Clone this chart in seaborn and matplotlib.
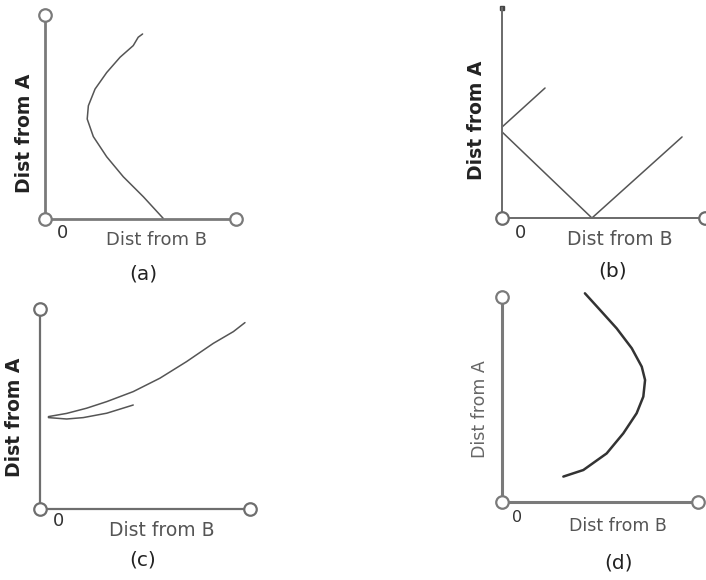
import numpy as np
import pandas as pd
import matplotlib
matplotlib.use("Agg")
import matplotlib.pyplot as plt
import seaborn as sns

sns.set_theme(style="white")
plt.rcParams["font.family"] = ["DejaVu Sans"]

# ---- curve data (distance from B, distance from A), unit scale 0..10 ----
a_dist_b = [6.19, 5.15, 4.10, 3.23, 2.53, 2.21, 2.27, 2.62, 3.23, 3.93, 4.62, 4.88, 5.11]
a_dist_a = [0.03, 1.09, 2.07, 3.05, 4.04, 4.90, 5.55, 6.37, 7.18, 7.93, 8.50, 8.91, 9.07]

b_upper_b = [0.0, 2.12]
b_upper_a = [4.33, 6.19]
b_v_b = [0.0, 4.43, 8.87]
b_v_a = [4.10, 0.0, 3.86]

c_upper_b = [0.40, 1.27, 2.22, 3.18, 4.44, 5.71, 6.98, 8.25, 9.21, 9.76]
c_upper_a = [4.62, 4.78, 5.04, 5.37, 5.87, 6.54, 7.37, 8.28, 8.87, 9.32]
c_lower_b = [0.40, 1.27, 2.06, 3.18, 4.44]
c_lower_a = [4.57, 4.50, 4.57, 4.79, 5.20]

d_dist_b = [4.23, 5.00, 5.85, 6.62, 7.13, 7.30, 7.21, 6.87, 6.19, 5.34, 4.15, 3.13]
d_dist_a = [10.18, 9.37, 8.47, 7.50, 6.60, 5.95, 5.14, 4.33, 3.35, 2.37, 1.56, 1.24]

panel_names = ["(a)", "(b)", "(c)", "(d)"]
x_title = "Dist from B"
y_title = "Dist from A"
origin_label = "0"

W, H = 706, 580
fig = plt.figure(figsize=(W / 100, H / 100), dpi=100)
fig.patch.set_facecolor("white")


def px_axes(left, origin_y, width, height):
    return fig.add_axes([left / W, (H - origin_y) / H, width / W, height / H])


def ftext(x, y, s, **kw):
    fig.text(x / W, 1 - y / H, s, **kw)


def frame(ax, color="#7a7a7a", lw=2.0, top_circle=True, right_circle=True):
    ax.set_xlim(0, 10)
    ax.set_ylim(0, 10)
    ax.set_xticks([])
    ax.set_yticks([])
    ax.set_facecolor("none")
    for side in ("top", "right"):
        ax.spines[side].set_visible(False)
    for side in ("left", "bottom"):
        ax.spines[side].set_color(color)
        ax.spines[side].set_linewidth(lw)
    ends_x, ends_y = [0], [0]
    if top_circle:
        ends_x.append(0); ends_y.append(1)
    if right_circle:
        ends_x.append(1); ends_y.append(0)
    ax.plot(ends_x, ends_y, "o", transform=ax.transAxes, ms=9, mfc="white",
            mec=color, mew=1.6, clip_on=False, zorder=5)


def curve(ax, xs, ys, color="#555555", lw=1.1):
    df = pd.DataFrame({"b": xs, "a": ys})
    sns.lineplot(data=df, x="b", y="a", sort=False, estimator=None, ax=ax,
                 color=color, lw=lw, clip_on=False)
    ax.set_xlabel("")
    ax.set_ylabel("")


# ---- (a) ----
ax_a = px_axes(45, 219, 191, 204)
frame(ax_a)
curve(ax_a, a_dist_b, a_dist_a)

# ---- (b) ----
ax_b = px_axes(502, 218, 203, 210)
frame(ax_b, color="#6a6a6a", lw=1.4, top_circle=False)
curve(ax_b, b_upper_b, b_upper_a)
curve(ax_b, b_v_b, b_v_a)
ax_b.plot([0], [1], "s", transform=ax_b.transAxes, ms=2.5, color="#444444",
          clip_on=False)

# ---- (c) ----
ax_c = px_axes(40, 509, 210, 200)
frame(ax_c, color="#6e6e6e", lw=1.6)
curve(ax_c, c_upper_b, c_upper_a)
curve(ax_c, c_lower_b, c_lower_a)

# ---- (d) ----
ax_d = px_axes(502, 502, 196, 205)
frame(ax_d, color="#7a7a7a", lw=2.2)
curve(ax_d, d_dist_b, d_dist_a, color="#333333", lw=1.8)

# ---- labels ----
bold_y = dict(rotation=90, ha="center", va="center", fontsize=13.5,
              fontweight="bold", color="#222222")
norm_x = dict(ha="center", va="center", fontsize=13, color="#555555")
zero_kw = dict(ha="center", va="center", fontsize=13, color="#333333")
cap_kw = dict(ha="center", va="center", fontsize=14.5, color="#222222")

# (a)
ftext(25, 133, y_title, **bold_y)
ftext(157, 240, x_title, **norm_x)
ftext(62, 233, origin_label, **zero_kw)
ftext(143, 274, panel_names[0], **cap_kw)

# (b)
ftext(477, 120, y_title, **bold_y)
ftext(620, 240, x_title, **{**norm_x, "fontsize": 13.5})
ftext(520, 233, origin_label, **zero_kw)
ftext(613, 271, panel_names[1], **cap_kw)

# (c)
ftext(15, 417, y_title, **bold_y)
ftext(162, 530, x_title, **{**norm_x, "fontsize": 13.5})
ftext(58, 521, origin_label, **zero_kw)
ftext(143, 560, panel_names[2], **cap_kw)

# (d)
ftext(480, 409, y_title, rotation=90, ha="center", va="center",
      fontsize=12.5, color="#666666")
ftext(618, 526, x_title, ha="center", va="center", fontsize=12.5,
      color="#555555")
ftext(517, 518, origin_label, **{**zero_kw, "fontsize": 11.5})
ftext(618, 563, panel_names[3], **cap_kw)

fig.savefig("out.png", dpi=100, facecolor="white")
